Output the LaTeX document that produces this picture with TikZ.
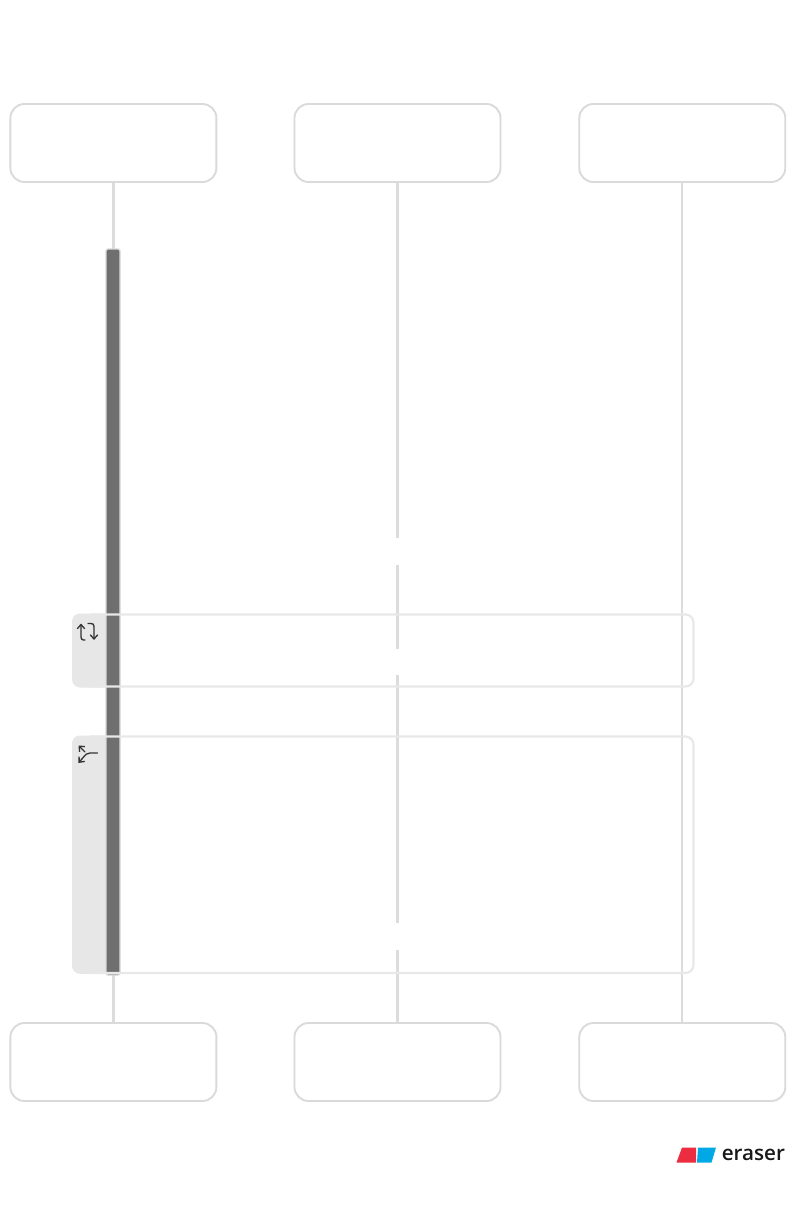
\documentclass[tikz,border=0pt]{standalone}
\usepackage{fontspec}
\setmainfont{Open Sans}
\usetikzlibrary{arrows.meta}
\definecolor{boxline}{HTML}{DADADA}
\definecolor{lifeline}{HTML}{DCDCDC}
\definecolor{barfill}{HTML}{6F6F6F}
\definecolor{frameline}{HTML}{E8E8E8}
\definecolor{tabfill}{HTML}{E7E7E7}
\definecolor{iconline}{HTML}{333333}
\definecolor{eraserred}{HTML}{EC2C40}
\definecolor{eraserblue}{HTML}{00A9E5}
\tikzset{
  x=0.75pt,y=-0.75pt,
  actor/.style={draw=boxline,line width=1.4pt,rounded corners=10.5pt,fill=white,minimum width=154.5pt,minimum height=58.5pt,inner sep=0pt},
  life/.style={draw=lifeline,line width=1.7pt},
  frameedge/.style={draw=frameline,line width=1.6pt,rounded corners=6pt},
  tab/.style={fill=tabfill,rounded corners=6pt},
  bar/.style={draw=boxline,fill=barfill,line width=1pt,rounded corners=1.5pt},
  icon/.style={draw=iconline,line width=1pt,line cap=round,line join=round},
  iconarrow/.style={icon,-{Straight Barb[length=3.2pt,width=5.6pt,line width=1pt]}},
}
\begin{document}
\begin{tikzpicture}
\useasboundingbox[fill=white] (0,0) rectangle (795,1220);
% actors
\node[actor] (t1) at (113.4,143) {};
\node[actor] (t2) at (397.5,143) {};
\node[actor] (t3) at (682.3,143) {};
\node[actor] (b1) at (113.4,1062) {};
\node[actor] (b2) at (397.5,1062) {};
\node[actor] (b3) at (682.3,1062) {};
% lifeline break points
\coordinate (m1) at (397.5,538);
\coordinate (m2) at (397.5,565);
\coordinate (m3) at (397.5,649);
\coordinate (m4) at (397.5,675);
\coordinate (m5) at (397.5,923);
\coordinate (m6) at (397.5,950);
% lifelines
\draw[life] (t1.south) -- (b1.north);
\draw[life] (t2.south) -- (m1);
\draw[life] (m2) -- (m3);
\draw[life] (m4) -- (m5);
\draw[life] (m6) -- (b2.north);
\draw[life] (t3.south) -- (b3.north);
% frame tabs
\fill[tab] (113,613.5) -- (72,613.5) -- (72,687.5) -- (113,687.5) -- cycle;
\fill[tab] (113,735.5) -- (72,735.5) -- (72,973.8) -- (113,973.8) -- cycle;
% activation bar
\draw[bar] (106,249) rectangle (120,975);
% frames
\draw[frameedge] (90,614.5) -- (693.5,614.5) -- (693.5,686.5) -- (90,686.5);
\draw[frameedge] (90,736.5) -- (693.5,736.5) -- (693.5,973) -- (90,973);
% loop icon
\draw[iconarrow] (85,640) -- (83.5,640) .. controls (81.5,640) and (81,638.5) .. (81,636.5) -- (81,623.5);
\draw[iconarrow] (88,623.5) -- (91,623.5) .. controls (93,623.5) and (94,624.5) .. (94,626.5) -- (94,640);
% alt icon
\draw[iconarrow] (85,752) -- (78.5,745.5);
\draw[iconarrow] (97.5,753) -- (90,753) .. controls (87,753) and (85,755) .. (84,756.5) -- (78.5,763);
% logo
\fill[eraserred] (682,1147.5) -- (696,1147.5) -- (696,1162.5) -- (676.5,1162.5) -- cycle;
\fill[eraserblue] (698,1147.5) -- (716,1147.5) -- (711.5,1162.5) -- (697,1162.5) -- cycle;
\node[anchor=west,inner sep=0pt,font=\fontsize{15.5pt}{17pt}\selectfont\fontspec{Open Sans Semibold},text=black!90] (logo) at (721.5,1154.5) {eraser};
\end{tikzpicture}
\end{document}
